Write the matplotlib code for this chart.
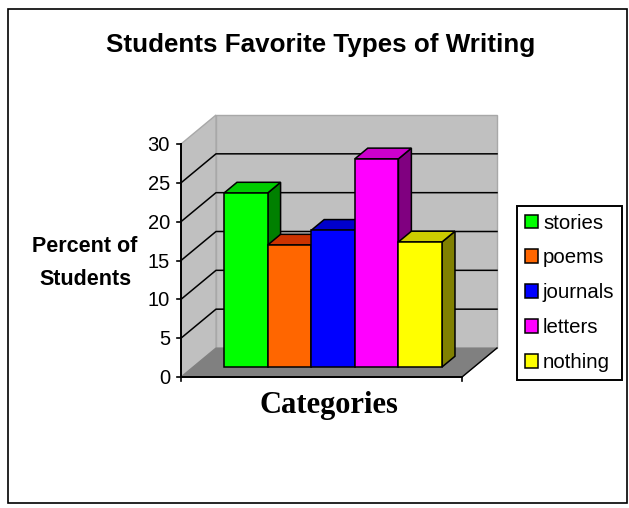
import matplotlib
matplotlib.use("Agg")
import matplotlib.pyplot as plt
from matplotlib.patches import Polygon, Patch, Rectangle

categories = ["stories", "poems", "journals", "letters", "nothing"]
values = [22.4, 15.7, 17.6, 26.8, 16.1]
front_colors = ["#00FF00", "#FF6600", "#0000FF", "#FF00FF", "#FFFF00"]
top_colors = ["#00CC00", "#CC3300", "#0000CC", "#CC00CC", "#CCCC00"]
side_colors = ["#008000", "#803300", "#000080", "#800080", "#808000"]
y_ticks = [0, 5, 10, 15, 20, 25, 30]
title = "Students Favorite Types of Writing"
y_label = "Percent of\nStudents"
x_label = "Categories"

W, H = 629, 508
UX = 43.6      # pixels per bar
UY = 233 / 30  # pixels per percent
X0, Y0 = 181, 377
DX, DY = 35 / UX, 29 / UY
SPAN = 281 / UX
D0, D1 = 0.345, 0.715
START = 0.71

plt.rcParams["font.family"] = ["Liberation Sans"]
fig = plt.figure(figsize=(W / 100, H / 100), dpi=100, facecolor="white")
ax = fig.add_axes([0, 0, 1, 1])
ax.set_xlim(-X0 / UX, (W - X0) / UX)
ax.set_ylim((Y0 - H) / UY, Y0 / UY)
ax.axis("off")


def p(x, v, d=0.0):
    return (x + d * DX, v + d * DY)


def poly(pts, fc, ec="black", lw=1.1, z=2):
    ax.add_patch(Polygon(pts, closed=True, facecolor=fc, edgecolor=ec, linewidth=lw,
                         joinstyle="miter", zorder=z))


top = y_ticks[-1]
# walls and floor
poly([p(0, 0, 1), p(SPAN, 0, 1), p(SPAN, top, 1), p(0, top, 1)], "#C0C0C0", "#A8A8A8", 1.0, 1)
poly([p(0, 0), p(0, 0, 1), p(0, top, 1), p(0, top)], "#C0C0C0", "#A8A8A8", 1.0, 1)
poly([p(0, 0), p(SPAN, 0), p(SPAN, 0, 1), p(0, 0, 1)], "#808080", "#808080", 0.8, 1)

# gridlines
for t in y_ticks[1:-1]:
    ax.plot(*zip(p(0, t), p(0, t, 1), p(SPAN, t, 1)), color="black", lw=1.1, zorder=1.5)

# bars
for i, v in enumerate(values):
    a, b = START + i, START + i + 1
    poly([p(b, 0, D0), p(b, 0, D1), p(b, v, D1), p(b, v, D0)], side_colors[i])
    poly([p(a, v, D0), p(b, v, D0), p(b, v, D1), p(a, v, D1)], top_colors[i])
    poly([p(a, 0, D0), p(b, 0, D0), p(b, v, D0), p(a, v, D0)], front_colors[i])

# axes
ax.plot([0, 0], [0, top], color="black", lw=1.4, zorder=3)
ax.plot([0, SPAN], [0, 0], color="black", lw=1.4, zorder=3)
ax.plot(*zip(p(SPAN, 0), p(SPAN, 0, 1)), color="black", lw=1.0, zorder=3)
TX = 4 / UX
TY = 4 / UY
for t in y_ticks:
    ax.plot([-TX, 0], [t, t], color="black", lw=1.2, zorder=3)
    ax.annotate(str(t), xy=(-11 / UX, t), xytext=(0, -1.2), textcoords="offset points",
                ha="right", va="center", fontsize=14.5, color="black")
ax.plot([0, 0], [0, -TY], color="black", lw=1.2, zorder=3)
ax.plot([SPAN, SPAN], [0, -TY], color="black", lw=1.2, zorder=3)

# text
fig.text(321 / W, 1 - 45 / H, title, ha="center", va="center", fontsize=18.7, fontweight="bold")
fig.text(85 / W, 1 - 263 / H, y_label, ha="center", va="center", fontsize=15.5,
         fontweight="bold", linespacing=1.75)
fig.text(329 / W, 1 - 406 / H, x_label, ha="center", va="center", fontsize=22,
         fontweight="bold", family="Liberation Serif")

# legend
handles = [Patch(facecolor=c, edgecolor="black", linewidth=1.1) for c in front_colors]
leg = ax.legend(handles, categories, loc="lower left",
                bbox_to_anchor=(517 / W, 1 - 380 / H, 106 / W, 177 / H),
                bbox_transform=fig.transFigure, frameon=True, fancybox=False,
                edgecolor="black", facecolor="white", framealpha=1, fontsize=14.7,
                handlelength=0.65, handleheight=0.65, handletextpad=0.24,
                labelspacing=0.78, borderpad=0.38, borderaxespad=0)
leg.get_frame().set_linewidth(1.4)

# outer border
fig.add_artist(Rectangle((8 / W, 1 - 503 / H), 619 / W, 494 / H, transform=fig.transFigure,
                         fill=False, edgecolor="black", linewidth=1.2))

fig.savefig("out.png", dpi=100)
